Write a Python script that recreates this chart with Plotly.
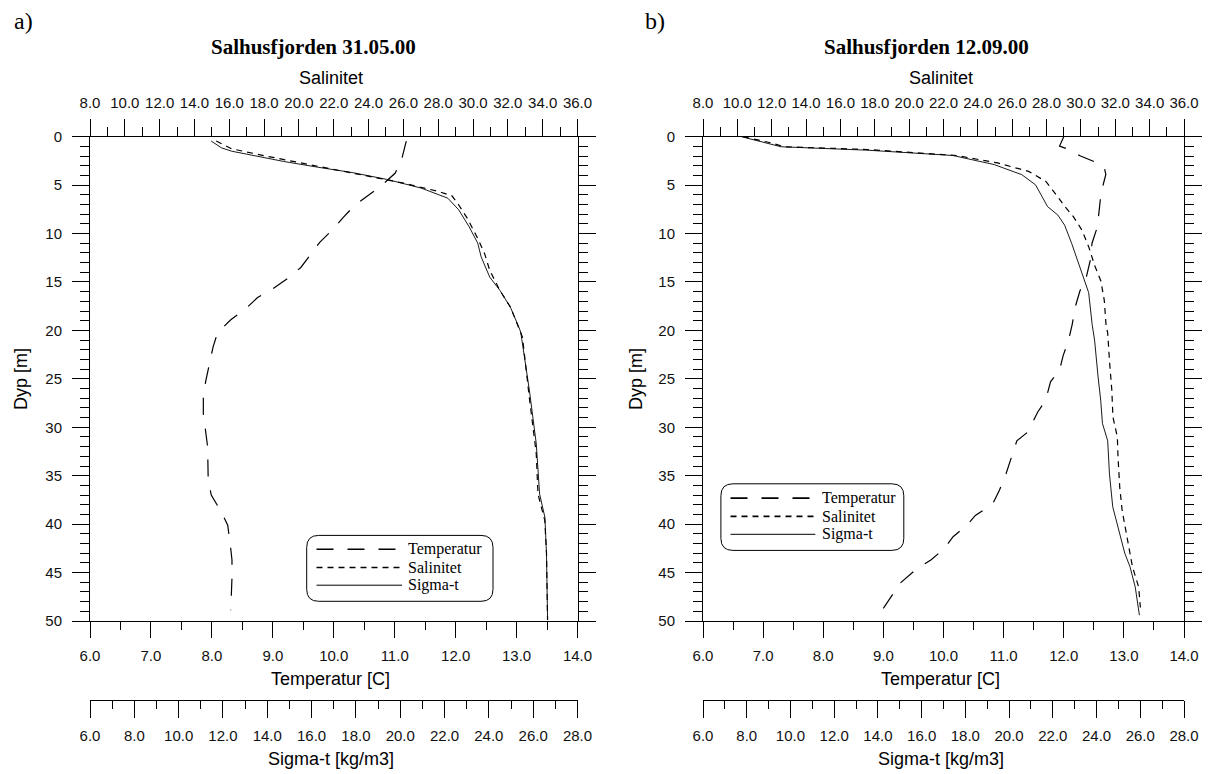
import plotly.graph_objects as go

W, H = 1208, 774

# ---------------- Panel a) Salhusfjorden 31.05.00 ----------------
a_temp_depth = [0.45, 2.2, 3.75, 4.9, 6.0, 7.05, 8.3, 9.6, 10.9, 12.3, 13.5, 14.7, 15.7, 16.6, 17.8, 18.9,
                20.0, 20.7, 21.7, 25.2, 26.9, 28.6, 30.3, 32.0, 35.5, 37.0, 38.7, 40.1, 42.0, 43.7, 45.5, 48.9]
a_temp = [11.19, 11.12, 11.01, 10.81, 10.58, 10.35, 10.16, 9.98, 9.77, 9.61, 9.46, 9.23, 9.00, 8.75, 8.55, 8.31,
          8.13, 8.07, 8.02, 7.90, 7.86, 7.86, 7.89, 7.93, 7.94, 7.99, 8.15, 8.26, 8.30, 8.33, 8.33, 8.31]

a_sal_depth = [0.45, 1.25, 2.0, 2.7, 3.4, 4.1, 4.8, 5.65, 6.1, 7.05, 8.45, 10.5, 12.1, 13.8, 15.9, 17.6, 19.7,
               20.7, 26.9, 32.7, 36.9, 39.6, 43.0, 49.9]
a_sal = [15.25, 16.14, 18.12, 20.09, 22.07, 24.04, 26.02, 28.00, 28.79, 29.18, 29.68, 30.27, 30.67, 30.96, 31.55,
         32.15, 32.64, 32.84, 33.23, 33.63, 33.73, 34.12, 34.22, 34.28]

a_sig_depth = [0.45, 1.15, 1.5, 1.95, 2.55, 3.15, 3.7, 4.4, 5.3, 6.35, 7.55, 9.3, 11.0, 12.4, 14.5, 15.9, 17.6,
               19.7, 20.2, 26.2, 31.7, 36.9, 39.3, 43.0, 49.9]
a_sig = [11.47, 11.93, 12.40, 13.33, 14.73, 16.28, 17.83, 19.38, 20.94, 22.15, 22.64, 23.11, 23.50, 23.65, 24.04,
         24.51, 24.97, 25.36, 25.44, 25.83, 26.14, 26.29, 26.53, 26.60, 26.65]

# ---------------- Panel b) Salhusfjorden 12.09.00 ----------------
b_temp_depth = [0.0, 0.97, 1.22, 2.0, 2.7, 3.06, 3.9, 5.8, 9.3, 11.0, 12.8, 14.9, 15.9, 17.6, 19.4, 21.0, 22.6,
                24.1, 25.3, 27.2, 28.4, 30.5, 31.4, 34.8, 36.5, 37.9, 39.1, 40.1, 41.3, 42.6, 43.7, 44.7, 46.3,
                47.2, 48.6, 49.5]
b_temp = [12.00, 11.93, 12.04, 12.28, 12.56, 12.67, 12.70, 12.62, 12.56, 12.47, 12.44, 12.36, 12.27, 12.19,
          12.14, 12.08, 11.99, 11.93, 11.78, 11.70, 11.57, 11.40, 11.22, 11.04, 10.93, 10.82, 10.53, 10.39,
          10.16, 10.00, 9.79, 9.54, 9.24, 9.16, 9.01, 8.90]

b_sal_depth = [0.0, 0.63, 1.04, 1.32, 1.94, 2.71, 3.58, 4.62, 6.0, 7.2, 8.25, 9.65, 11.4, 13.3, 14.9, 16.9, 19.4,
               20.3, 23.1, 26.2, 28.9, 31.0, 33.1, 36.2, 38.6, 41.7, 44.4, 46.5, 48.6]
b_sal = [10.34, 11.94, 12.74, 17.55, 22.75, 25.15, 26.95, 27.96, 28.56, 29.06, 29.56, 30.06, 30.46, 30.80, 31.16,
         31.36, 31.46, 31.56, 31.66, 31.80, 31.86, 32.12, 32.16, 32.26, 32.40, 32.72, 33.00, 33.36, 33.46]

b_sig_depth = [0.0, 1.04, 1.39, 1.94, 2.88, 3.92, 4.97, 6.18, 7.22, 8.09, 9.13, 11.0, 13.1, 14.2, 16.1, 19.4,
               21.0, 24.8, 27.2, 29.6, 31.4, 34.8, 38.2, 40.3, 43.0, 44.4, 46.5, 49.4]
b_sig = [7.76, 9.57, 13.50, 17.43, 19.32, 20.58, 21.21, 21.52, 21.76, 22.23, 22.54, 22.86, 23.17, 23.33, 23.64,
         23.80, 23.91, 24.07, 24.19, 24.27, 24.51, 24.59, 24.74, 24.98, 25.29, 25.53, 25.77, 25.96]

titles = ["Salhusfjorden 31.05.00", "Salhusfjorden 12.09.00"]
panel_labels = ["a)", "b)"]
series_names = ["Temperatur", "Salinitet", "Sigma-t"]
temp_range, sal_range, sig_range, depth_range = [6, 14], [8, 36], [6, 28], [50, 0]

# ---------------- styling ----------------
SANS = "Liberation Sans, Arial, sans-serif"
SERIF = "Liberation Serif, Times New Roman, serif"
INK = "#000000"
TICK_INK = "#111111"
DASH_T = "17px,14px"
DASH_S = "6px,5px"
TICK_SIZE = 15


def px(x):
    return x / W


def py(y):
    return 1 - y / H


panels_px = [(90, 577.5), (703, 1184)]
top_px, bot_px, sig_px = 136.7, 621.0, 700.0

fig = go.Figure()

data = [
    (a_temp, a_temp_depth, a_sal, a_sal_depth, a_sig, a_sig_depth),
    (b_temp, b_temp_depth, b_sal, b_sal_depth, b_sig, b_sig_depth),
]

layout = dict(
    width=W, height=H, margin=dict(l=0, r=0, t=0, b=0, autoexpand=False),
    paper_bgcolor="white", plot_bgcolor="white", showlegend=False,
    font=dict(family=SANS, size=TICK_SIZE, color=INK),
)

annotations = []
shapes = []


def xax(rng, dtick, minor, side, ticklen, mticklen, **kw):
    d = dict(range=rng, side=side, dtick=dtick, tick0=rng[0], tickformat=".1f",
             ticks="outside", ticklen=ticklen, tickwidth=1, tickcolor=INK,
             minor=dict(dtick=minor, tick0=rng[0], ticks="outside", ticklen=mticklen, tickwidth=1,
                        tickcolor=INK, showgrid=False),
             showline=True, linecolor=INK, linewidth=1, showgrid=False, zeroline=False, automargin=False,
             tickfont=dict(family=SANS, size=TICK_SIZE, color=TICK_INK), ticklabelstandoff=5, fixedrange=True)
    d.update(kw)
    return d


for i, (x0p, x1p) in enumerate(panels_px):
    T, Td, S, Sd, G, Gd = data[i]
    dom = [px(x0p), px(x1p)]
    n = 3 * i
    xa, xs, xg = f"x{n+1 if n else ''}", f"x{n+2}", f"x{n+3}"
    ya = f"y{i+1 if i else ''}"
    xa_key = "xaxis" + (str(n + 1) if n else "")
    ya_key = "yaxis" + (str(i + 1) if i else "")

    layout[xa_key] = xax(temp_range, 1, 0.5, "bottom", 16, 8, domain=dom, anchor=ya)
    layout[f"xaxis{n+2}"] = xax(sal_range, 2, 1, "top", 17, 9, overlaying=xa, anchor=ya)
    layout[f"xaxis{n+3}"] = xax(sig_range, 2, 1, "bottom", 17, 8, overlaying=xa, anchor="free",
                                position=py(sig_px))
    layout[ya_key] = dict(
        domain=[py(bot_px), py(top_px)], range=depth_range, anchor=xa, dtick=5, tick0=0,
        ticks="outside", ticklen=17, tickwidth=1, tickcolor=INK, mirror="ticks",
        minor=dict(dtick=1, tick0=0, ticks="outside", ticklen=9, tickwidth=1, tickcolor=INK, showgrid=False),
        showline=True, linecolor=INK, linewidth=1, showgrid=False, zeroline=False, automargin=False,
        tickfont=dict(family=SANS, size=TICK_SIZE, color=TICK_INK), ticklabelstandoff=7, fixedrange=True,
    )

    fig.add_trace(go.Scatter(x=T, y=Td, xaxis=xa, yaxis=ya, mode="lines", name=series_names[0],
                             line=dict(color=INK, width=1.2, dash=DASH_T), hoverinfo="skip"))
    fig.add_trace(go.Scatter(x=S, y=Sd, xaxis=xs, yaxis=ya, mode="lines", name=series_names[1],
                             line=dict(color=INK, width=1.2, dash=DASH_S), hoverinfo="skip"))
    fig.add_trace(go.Scatter(x=G, y=Gd, xaxis=xg, yaxis=ya, mode="lines", name=series_names[2],
                             line=dict(color=INK, width=0.9), hoverinfo="skip"))

    cx = (x0p + x1p) / 2
    # panel label and title
    annotations.append(dict(text=panel_labels[i], x=px([12, 643][i]), y=py(21), xref="paper", yref="paper",
                            xanchor="left", yanchor="middle", showarrow=False,
                            font=dict(family=SERIF, size=24, color=INK)))
    annotations.append(dict(text="<b>" + titles[i] + "</b>", x=px([313, 927][i]), y=py(47), xref="paper",
                            yref="paper", xanchor="center", yanchor="middle", showarrow=False,
                            font=dict(family=SERIF, size=21, color=INK)))
    # axis titles
    for txt, yy in (("Salinitet", 78), ("Temperatur [C]", 679), ("Sigma-t [kg/m3]", 759)):
        annotations.append(dict(text=txt, x=px(cx - 3), y=py(yy), xref="paper", yref="paper",
                                xanchor="center", yanchor="middle", showarrow=False,
                                font=dict(family=SANS, size=18, color=INK)))
    annotations.append(dict(text="Dyp [m]", x=px([21, 636][i]), y=py(379), xref="paper", yref="paper",
                            xanchor="center", yanchor="middle", showarrow=False, textangle=-90,
                            font=dict(family=SANS, size=18, color=INK)))

# ---------------- legends (rounded boxes) ----------------
legend_boxes = [
    dict(box=(306.7, 535.4, 493.0, 601.3), line=(316.5, 402.0), rows=(549.3, 567.5, 585.2), tx=406.0),
    dict(box=(720.9, 483.8, 903.8, 550.4), line=(730.5, 815.4), rows=(498.1, 516.4, 534.3), tx=820.0),
]
r = 12
for lg in legend_boxes:
    bx0, by0, bx1, by1 = lg["box"]
    L, R, T_, B = px(bx0), px(bx1), py(by0), py(by1)
    rx, ry = r / W, r / H
    path = (f"M {L+rx},{T_} L {R-rx},{T_} Q {R},{T_} {R},{T_-ry} L {R},{B+ry} Q {R},{B} {R-rx},{B} "
            f"L {L+rx},{B} Q {L},{B} {L},{B+ry} L {L},{T_-ry} Q {L},{T_} {L+rx},{T_} Z")
    shapes.append(dict(type="path", path=path, xref="paper", yref="paper",
                       line=dict(color=INK, width=1), fillcolor="white", layer="above"))
    for name, yy, dash, lw in zip(series_names, lg["rows"], [DASH_T, DASH_S, "solid"], [1.6, 1.6, 1]):
        shapes.append(dict(type="line", xref="paper", yref="paper", x0=px(lg["line"][0]), x1=px(lg["line"][1]),
                           y0=py(yy), y1=py(yy), line=dict(color=INK, width=lw, dash=dash), layer="above"))
        annotations.append(dict(text=name, x=px(lg["tx"]), y=py(yy), xref="paper", yref="paper",
                                xanchor="left", yanchor="middle", showarrow=False,
                                font=dict(family=SERIF, size=16, color=INK)))

layout["annotations"] = annotations
layout["shapes"] = shapes
fig.update_layout(**layout)

fig.write_html(
    "out.html",
    config={"displayModeBar": False, "staticPlot": True},
    post_script="document.body.style.margin='0px';document.body.style.overflow='hidden';",
)
